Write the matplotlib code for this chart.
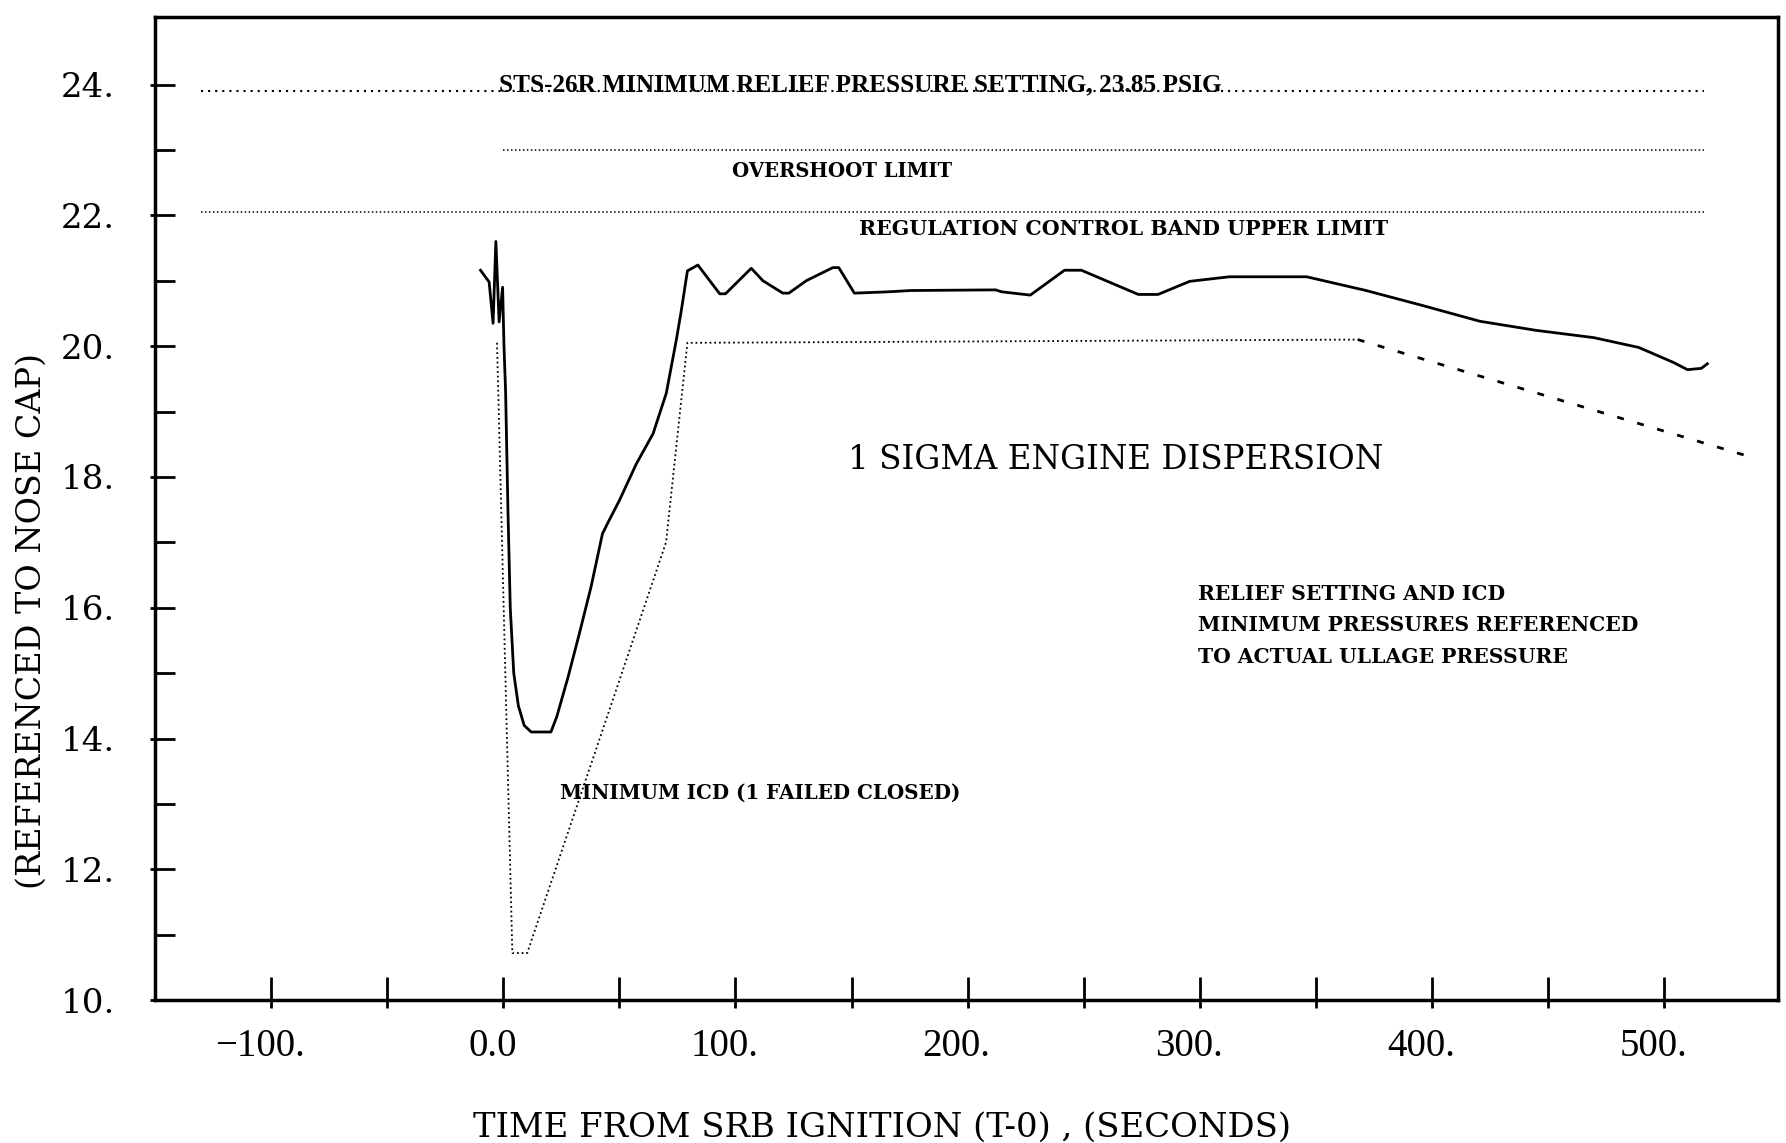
import matplotlib
matplotlib.use("Agg")
import matplotlib.pyplot as plt
from matplotlib.ticker import FixedLocator, FixedFormatter, NullFormatter
from matplotlib.transforms import ScaledTranslation

# ---- data ----
sigma_time = [-9.8, -6.1, -4.4, -3.2, -1.8, -0.3, 0.3, 1.0, 2.0, 3.0, 4.5, 6.5, 9.0, 12.0,
              20.5, 23.0, 27.9, 32.8, 37.8, 42.7, 45.2, 50.0, 57.3, 64.5, 70.2, 74.5, 76.7,
              79.3, 83.8, 93.2, 95.7, 106.8, 111.8, 120.4, 123.0, 130.5, 141.9, 144.5,
              151.2, 165.7, 175.5, 212.0, 214.7, 227.0, 241.7, 249.0, 273.5, 282.0, 295.6,
              312.7, 346.0, 371.6, 396.0, 420.6, 445.0, 469.6, 489.0, 504.0, 510.0, 516.0, 518.6]
sigma_press = [21.16, 20.98, 20.35, 21.6, 20.37, 20.9, 20.0, 19.3, 17.5, 16.0, 15.0, 14.5, 14.2, 14.1,
               14.1, 14.33, 14.94, 15.61, 16.32, 17.13, 17.31, 17.64, 18.2, 18.66, 19.28, 20.09, 20.55,
               21.15, 21.24, 20.8, 20.8, 21.19, 21.0, 20.81, 20.81, 21.0, 21.2, 21.2,
               20.81, 20.83, 20.85, 20.86, 20.83, 20.78, 21.16, 21.16, 20.79, 20.79, 20.99,
               21.06, 21.06, 20.85, 20.62, 20.38, 20.24, 20.13, 19.98, 19.75, 19.64, 19.66, 19.73]

icd_time = [-2.7, 3.9, 10.3, 70.1, 79.3, 368.0]
icd_press = [20.05, 10.72, 10.72, 17.0, 20.05, 20.1]
icd_decl_time = [368.0, 535.8]
icd_decl_press = [20.1, 18.32]

relief_time = [-130, 517]
relief_press = [23.9, 23.9]
overshoot_time = [0, 517]
overshoot_press = [23.0, 23.0]
regulation_time = [-130, 517]
regulation_press = [22.05, 22.05]

x_major = [-100, 0, 100, 200, 300, 400, 500]
x_minor = [-50, 50, 150, 250, 350, 450]
x_labels = ["\u2212100.", "0.0", "100.", "200.", "300.", "400.", "500."]
y_major = [10, 12, 14, 16, 18, 20, 22, 24]
y_minor = [11, 13, 15, 17, 19, 21, 23]
y_labels = ["10.", "12.", "14.", "16.", "18.", "20.", "22.", "24."]

SERIF = ["DejaVu Serif"]
TIMES = ["Liberation Serif", "DejaVu Serif"]

fig = plt.figure(figsize=(17.86, 11.43), dpi=100)
ax = fig.add_axes([0.0868, 0.125, 0.9087, 0.860])
ax.set_xlim(-150, 549)
ax.set_ylim(10, 25.03)

dot = (0, (1, 1.6))
ax.plot(relief_time, relief_press, color="black", lw=1.5, linestyle=(0, (1, 2.4)))
ax.plot(overshoot_time, overshoot_press, color="black", lw=1.1, linestyle=dot)
ax.plot(regulation_time, regulation_press, color="black", lw=1.1, linestyle=dot)
ax.plot(icd_time, icd_press, color="black", lw=1.3, linestyle=dot)
ax.plot(icd_decl_time, icd_decl_press, color="black", lw=2.0, linestyle=(0, (2.5, 5)))
ax.plot(sigma_time, sigma_press, color="black", lw=2.0, solid_joinstyle="round")

# ticks (inside part on the main axes)
ax.xaxis.set_major_locator(FixedLocator(x_major))
ax.xaxis.set_major_formatter(FixedFormatter(x_labels))
ax.xaxis.set_minor_locator(FixedLocator(x_minor))
ax.yaxis.set_major_locator(FixedLocator(y_major))
ax.yaxis.set_major_formatter(FixedFormatter(y_labels))
ax.yaxis.set_minor_locator(FixedLocator(y_minor))
ax.tick_params(axis="x", which="both", direction="in", length=16.5, width=2, pad=20)
ax.tick_params(axis="y", which="both", direction="in", length=14.5, width=2, pad=29)
shift = ScaledTranslation(-0.11, 0, fig.dpi_scale_trans)
for lab in ax.get_xticklabels():
    lab.set_family(TIMES)
    lab.set_fontsize(28)
    lab.set_transform(lab.get_transform() + shift)
for lab in ax.get_yticklabels():
    lab.set_family(SERIF)
    lab.set_fontsize(24.5)
for sp in ax.spines.values():
    sp.set_linewidth(2.5)

# short outward stubs of the ticks
sx = ax.secondary_xaxis("bottom")
sx.set_xticks(x_major + x_minor)
sx.xaxis.set_major_formatter(NullFormatter())
sx.tick_params(direction="out", length=6, width=2)
sx.spines["bottom"].set_visible(False)
sy = ax.secondary_yaxis("left")
sy.set_yticks(y_major)
sy.yaxis.set_major_formatter(NullFormatter())
sy.tick_params(direction="out", length=3.5, width=2)
sy.spines["left"].set_visible(False)

bold = dict(family=SERIF, color="black", fontweight="bold")
ax.text(-2, 23.9, "STS-26R MINIMUM RELIEF PRESSURE SETTING, 23.85 PSIG", fontsize=18.15,
        ha="left", va="baseline", family=TIMES, fontweight="bold", color="black")
ax.text(98.6, 22.68, "OVERSHOOT LIMIT", fontsize=14.1, ha="left", va="center", **bold)
ax.text(153.4, 21.79, "REGULATION CONTROL BAND UPPER LIMIT", fontsize=14.75, ha="left", va="center", **bold)
ax.text(148.5, 18.26, "1 SIGMA ENGINE DISPERSION", fontsize=23.5, ha="left", va="center",
        family=SERIF, color="black")
ax.text(24.5, 13.17, "MINIMUM ICD (1 FAILED CLOSED)", fontsize=14.3, ha="left", va="center", **bold)
ax.text(299, 15.73, "RELIEF SETTING AND ICD\nMINIMUM PRESSURES REFERENCED\nTO ACTUAL ULLAGE PRESSURE",
        fontsize=14.55, ha="left", va="center", linespacing=1.72, **bold)

fig.text(0.0179, 0.457, "(REFERENCED TO NOSE CAP)", rotation=90, fontsize=24,
         ha="center", va="center", family=SERIF, color="black")
fig.text(0.494, 0.013, "TIME FROM SRB IGNITION (T-0) , (SECONDS)", fontsize=24.4,
         ha="center", va="center", family=SERIF, color="black")

fig.savefig("out.png", dpi=100)
